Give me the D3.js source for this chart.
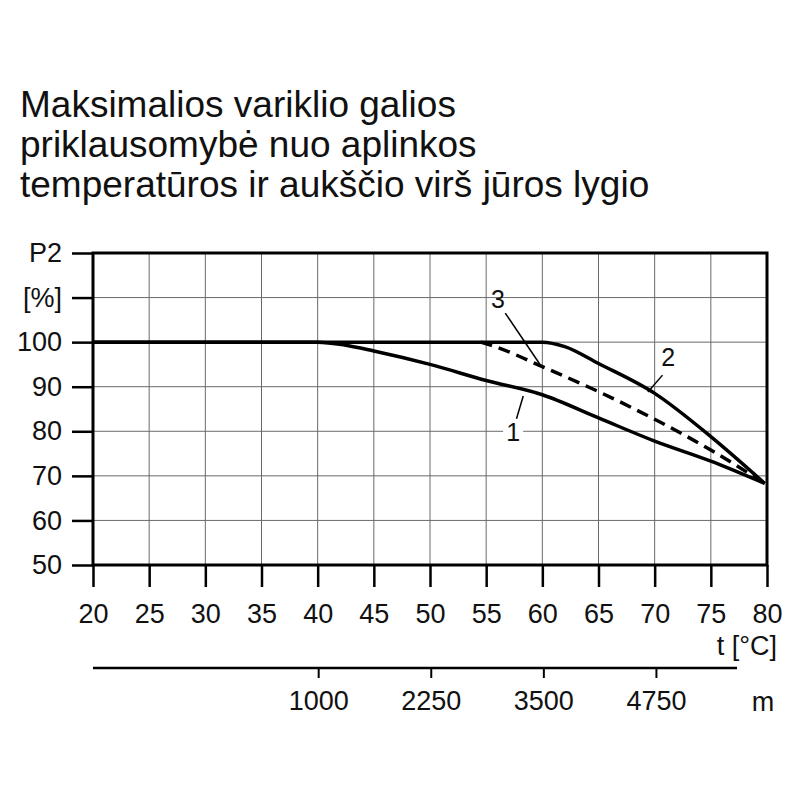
<!DOCTYPE html>
<html lang="lt">
<head>
    <meta charset="UTF-8">
    <title>P2</title>
    <script src="https://cdn.jsdelivr.net/npm/d3@7"></script>
    <style>
        body { margin: 0; background: #fff; }
        text { font-family: "Liberation Sans", Arial, sans-serif; fill: #111; }
    </style>
</head>
<body>
    <script>
        // duomenys
        let titleLines = ['Maksimalios variklio galios',
                          'priklausomybė nuo aplinkos',
                          'temperatūros ir aukščio virš jūros lygio'];
        let tempTicks = [20, 25, 30, 35, 40, 45, 50, 55, 60, 65, 70, 75, 80];
        let powerTicks = [50, 60, 70, 80, 90, 100, 110, 120];
        let powerLabels = ['50', '60', '70', '80', '90', '100', '[%]', 'P2'];
        let altTicks = [1000, 2250, 3500, 4750];
        let altRange = [-1500, 5650];

        let curve1 = [[20, 100], [40, 100], [42.5, 99.3], [45, 98], [50, 95], [55, 91.4],
                      [60, 88.2], [65, 83], [70, 77.8], [75, 73.3], [79.8, 68.3]];
        let curve2 = [[20, 100], [60, 100], [62, 99], [65, 95.2], [70, 88.5], [75, 78.8], [79.8, 68.3]];
        let curve3 = [[54.5, 100], [56, 98.8], [60, 94.5], [65, 88.9], [70, 82.7], [75, 75.8], [79.8, 68.3]];

        // numeriai ir rodyklės (t, P2)
        let callouts = [
            { name: '3', at: [56.05, 109.7], from: [56.7, 106.5], to: [59.9, 94.6] },
            { name: '2', at: [71.2, 96.7], from: [70.7, 92.6], to: [69.4, 88.8] },
            { name: '1', at: [57.4, 79.8], from: [57.7, 82.8], to: [58.3, 87.9], bg: true }
        ];

        let width = 800, height = 800;
        let svg = d3.select('body').append('svg').attr('width', width).attr('height', height);

        let x = d3.scaleLinear().domain([20, 80]).range([93, 767]);
        let y = d3.scaleLinear().domain([50, 120]).range([565, 253]);
        let xAlt = d3.scaleLinear().domain(altRange).range([x(20), 737]);

        // antraštė
        svg.append('g').selectAll('text').data(titleLines).enter().append('text')
            .attr('x', 20)
            .attr('y', (d, i) => 117 + i * 40)
            .style('font-size', '37px')
            .text(d => d);

        // tinklelis
        let grid = svg.append('g').attr('stroke', '#6a6a6a').attr('stroke-width', 1);
        grid.selectAll('.v').data(tempTicks).enter().append('line')
            .attr('x1', d => x(d)).attr('x2', d => x(d))
            .attr('y1', y(120)).attr('y2', y(50));
        grid.selectAll('.h').data(powerTicks).enter().append('line')
            .attr('x1', x(20)).attr('x2', x(80))
            .attr('y1', d => y(d)).attr('y2', d => y(d));

        // kairė ašis
        let yAxis = d3.axisLeft(y).tickValues(powerTicks)
            .tickFormat((d, i) => powerLabels[i]).tickSize(21).tickPadding(10);
        let gy = svg.append('g').attr('transform', `translate(${x(20)},0)`).call(yAxis);
        gy.select('.domain').remove();
        gy.selectAll('line').attr('stroke', '#000').attr('stroke-width', 2.5);
        gy.selectAll('text').style('font-size', '27px').attr('fill', '#111');

        // apatinė ašis
        let xAxis = d3.axisBottom(x).tickValues(tempTicks).tickSize(22).tickPadding(17);
        let gx = svg.append('g').attr('transform', `translate(0,${y(50)})`).call(xAxis);
        gx.select('.domain').remove();
        gx.selectAll('line').attr('stroke', '#000').attr('stroke-width', 2.5);
        gx.selectAll('text').style('font-size', '27px').attr('fill', '#111');

        // rėmelis
        svg.append('rect')
            .attr('x', x(20)).attr('y', y(120))
            .attr('width', x(80) - x(20)).attr('height', y(50) - y(120))
            .attr('fill', 'none').attr('stroke', '#000').attr('stroke-width', 3);

        svg.append('text').attr('x', 777).attr('y', 655)
            .attr('text-anchor', 'end').style('font-size', '27px').text('t [°C]');

        // aukščio ašis
        let altAxis = d3.axisBottom(xAlt).tickValues(altTicks).tickFormat(d3.format('d'))
            .tickSize(10).tickPadding(13);
        let ga = svg.append('g').attr('transform', 'translate(0,668)').call(altAxis);
        ga.select('.domain').attr('d', `M${xAlt(altRange[0])},0H${xAlt(altRange[1])}`)
            .attr('stroke', '#000').attr('stroke-width', 2.5);
        ga.selectAll('line').attr('stroke', '#000').attr('stroke-width', 2);
        ga.selectAll('text').style('font-size', '27px').attr('fill', '#111');
        svg.append('text').attr('x', 763).attr('y', 711)
            .attr('text-anchor', 'middle').style('font-size', '27px').text('m');

        // kreivės
        let line = d3.line().x(d => x(d[0])).y(d => y(d[1])).curve(d3.curveMonotoneX);
        svg.append('path').datum(curve3).attr('d', line)
            .attr('fill', 'none').attr('stroke', '#000').attr('stroke-width', 3.5)
            .attr('stroke-dasharray', '12,7');
        [curve1, curve2].forEach(c => {
            svg.append('path').datum(c).attr('d', line)
                .attr('fill', 'none').attr('stroke', '#000').attr('stroke-width', 3.5)
                .attr('stroke-linejoin', 'round');
        });

        // numeriai
        let cg = svg.append('g').selectAll('g').data(callouts).enter().append('g');
        cg.filter(d => d.bg).append('rect')
            .attr('x', d => x(d.at[0]) - 10).attr('y', d => y(d.at[1]) - 14)
            .attr('width', 20).attr('height', 28).attr('fill', '#fff');
        cg.append('line')
            .attr('x1', d => x(d.from[0])).attr('y1', d => y(d.from[1]))
            .attr('x2', d => x(d.to[0])).attr('y2', d => y(d.to[1]))
            .attr('stroke', '#000').attr('stroke-width', 1.5);
        cg.append('text')
            .attr('x', d => x(d.at[0])).attr('y', d => y(d.at[1]))
            .attr('dy', '0.35em').attr('text-anchor', 'middle')
            .style('font-size', '25px').text(d => d.name);
    </script>
</body>
</html>
